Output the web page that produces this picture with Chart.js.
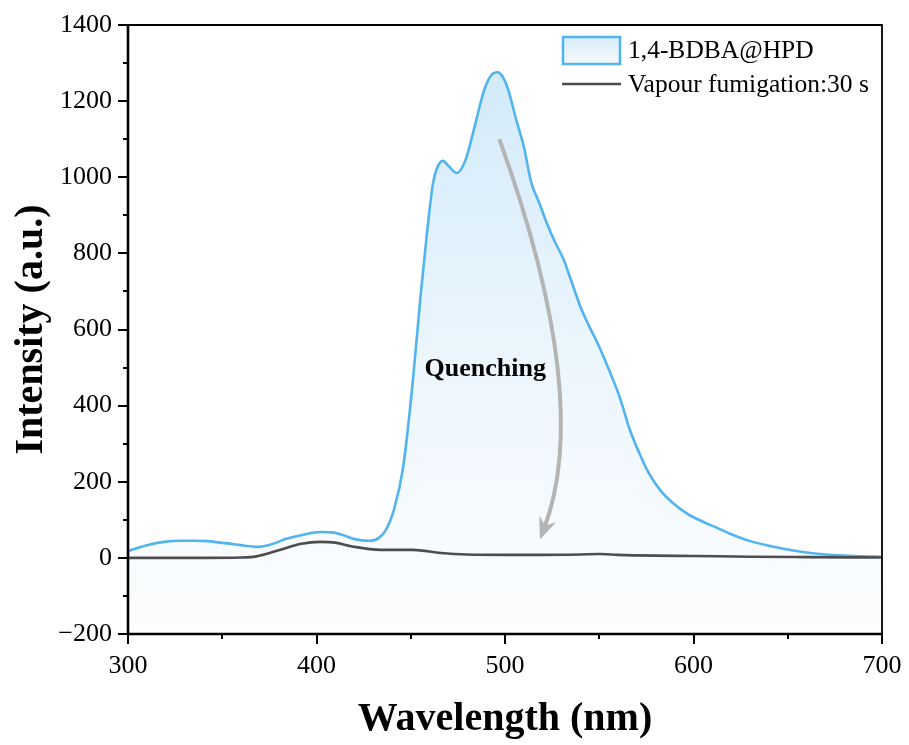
<!DOCTYPE html>
<html lang="en">
<head>
    <meta charset="UTF-8" />
    <title>Emission spectra</title>
    <script src="https://cdn.jsdelivr.net/npm/chart.js"></script>
    <style>
        html, body { margin: 0; padding: 0; background: #fff; }
        #wrap { width: 909px; height: 745px; }
    </style>
</head>
<body>
    <div id="wrap"><canvas id="specChart" width="909" height="745"></canvas></div>

    <script>
        // spectrum data
        const wlPristine = [300, 310, 319, 328, 335, 342, 349, 356, 362, 368, 375, 384, 393, 402, 408, 414, 419, 424, 428, 433, 437, 441, 446, 451, 455, 458.6, 461.8, 464, 467, 470, 474.5, 479, 484, 489, 493, 496, 499, 502, 506, 510, 514, 518, 522, 526, 531, 535, 540, 545, 549, 553, 557, 561, 566, 571, 576, 582, 590, 597, 605, 612, 620, 630, 640, 650, 660, 670, 680, 690, 700];
        const intPristine = [18, 33, 42, 45, 45, 44, 40, 36, 32, 29, 34, 50, 61, 68, 67, 60, 51, 46, 45, 52, 75, 125, 239, 459, 677, 853, 984, 1025, 1043, 1030, 1011, 1045, 1135, 1230, 1270, 1276, 1262, 1225, 1150, 1080, 985, 935, 882, 835, 785, 730, 660, 605, 565, 520, 472, 420, 340, 278, 225, 180, 140, 115, 95, 80, 62, 44, 32, 22, 14, 9, 6, 4, 3];

        const wlFumed = [300, 320, 340, 360, 368, 380, 392, 402, 410, 419, 434, 451, 466, 480, 500, 520, 540, 550, 560, 580, 600, 630, 660, 700];
        const intFumed = [0, 0, 0, 1, 4, 20, 37, 42, 40, 30, 21, 21, 13, 9, 8, 8, 9, 10, 8, 6, 5, 3, 2, 1];

        const seriesLabels = ['1,4-BDBA@HPD', 'Vapour fumigation:30 s'];
        const xTickValues = [300, 400, 500, 600, 700];
        const yTickValues = [-200, 0, 200, 400, 600, 800, 1000, 1200, 1400];

        const serif = '"Liberation Serif", "Times New Roman", serif';

        function toPoints(xs, ys) {
            return xs.map((x, i) => ({ x: x, y: ys[i] }));
        }

        function blueFill(ctx) {
            const area = ctx.chart.chartArea;
            if (!area) return 'rgba(214,236,251,0.8)';
            const g = ctx.chart.ctx.createLinearGradient(0, area.top + 60, 0, area.bottom);
            g.addColorStop(0, 'rgba(212,235,250,1)');
            g.addColorStop(0.55, 'rgba(238,247,253,1)');
            g.addColorStop(1, 'rgba(252,253,254,1)');
            return g;
        }

        // axis frame, ticks, legend, arrow and label
        const decorPlugin = {
            id: 'decor',
            afterDraw(chart) {
                const c = chart.ctx;
                const a = chart.chartArea;
                const xs = chart.scales.x;
                const ys = chart.scales.y;

                // quenching arrow
                const p0 = { x: xs.getPixelForValue(497), y: ys.getPixelForValue(1100) };
                const cp = { x: xs.getPixelForValue(547), y: ys.getPixelForValue(415) };
                const p2 = { x: xs.getPixelForValue(518.5), y: ys.getPixelForValue(48) };
                c.save();
                c.strokeStyle = '#b4b4b4';
                c.lineWidth = 4;
                c.beginPath();
                c.moveTo(p0.x, p0.y);
                const endLine = { x: p2.x + (cp.x - p2.x) * 0.07, y: p2.y + (cp.y - p2.y) * 0.07 };
                c.quadraticCurveTo(cp.x, cp.y, endLine.x, endLine.y);
                c.stroke();
                const ang = Math.atan2(p2.y - cp.y, p2.x - cp.x);
                c.fillStyle = '#b4b4b4';
                c.beginPath();
                c.moveTo(p2.x, p2.y);
                c.lineTo(p2.x - 22 * Math.cos(ang) + 9 * Math.sin(ang), p2.y - 22 * Math.sin(ang) - 9 * Math.cos(ang));
                c.lineTo(p2.x - 15 * Math.cos(ang), p2.y - 15 * Math.sin(ang));
                c.lineTo(p2.x - 22 * Math.cos(ang) - 9 * Math.sin(ang), p2.y - 22 * Math.sin(ang) + 9 * Math.cos(ang));
                c.closePath();
                c.fill();

                c.fillStyle = '#000';
                c.font = 'bold 26px ' + serif;
                c.textAlign = 'center';
                c.textBaseline = 'middle';
                c.fillText('Quenching', xs.getPixelForValue(489.5), ys.getPixelForValue(496));
                c.restore();

                // frame
                c.save();
                c.strokeStyle = '#000';
                c.lineWidth = 1.8;
                c.beginPath();
                c.moveTo(a.left, a.top);
                c.lineTo(a.right, a.top);
                c.lineTo(a.right, a.bottom);
                c.stroke();
                c.lineWidth = 2.6;
                c.beginPath();
                c.moveTo(a.left, a.top - 1);
                c.lineTo(a.left, a.bottom);
                c.lineTo(a.right + 1, a.bottom);
                c.stroke();

                // ticks (major + minor)
                c.lineWidth = 2;
                for (let v = -200; v <= 1400; v += 100) {
                    const py = Math.round(ys.getPixelForValue(v));
                    const len = v % 200 === 0 ? 10 : 5;
                    c.beginPath();
                    c.moveTo(a.left, py);
                    c.lineTo(a.left - len, py);
                    c.stroke();
                }
                for (let v = 300; v <= 700; v += 50) {
                    const px = Math.round(xs.getPixelForValue(v));
                    const len = v % 100 === 0 ? 10 : 5;
                    c.beginPath();
                    c.moveTo(px, a.bottom);
                    c.lineTo(px, a.bottom + len);
                    c.stroke();
                }
                c.restore();

                // legend
                const ds = chart.data.datasets;
                c.save();
                c.font = '25.5px ' + serif;
                c.textBaseline = 'middle';
                c.textAlign = 'left';
                const bx = 563, by = 37, bw = 57, bh = 27;
                const lg = c.createLinearGradient(0, by, 0, by + bh);
                lg.addColorStop(0, 'rgba(214,236,251,1)');
                lg.addColorStop(1, 'rgba(248,251,254,1)');
                c.fillStyle = lg;
                c.fillRect(bx, by, bw, bh);
                c.strokeStyle = ds[0].borderColor;
                c.lineWidth = 2.5;
                c.strokeRect(bx, by, bw, bh);
                c.fillStyle = '#000';
                c.fillText(ds[0].label, 628, by + bh / 2 + 1);
                c.strokeStyle = ds[1].borderColor;
                c.lineWidth = 2.5;
                c.beginPath();
                c.moveTo(bx - 1, 84);
                c.lineTo(bx + bw + 1, 84);
                c.stroke();
                c.fillText(ds[1].label, 628, 85);
                c.restore();
            }
        };

        const ctx = document.getElementById('specChart').getContext('2d');
        new Chart(ctx, {
            type: 'line',
            data: {
                datasets: [
                    {
                        label: seriesLabels[0],
                        data: toPoints(wlPristine, intPristine),
                        borderColor: '#52b4ef',
                        borderWidth: 2.6,
                        backgroundColor: blueFill,
                        fill: 'start',
                        pointRadius: 0,
                        tension: 0.4,
                        cubicInterpolationMode: 'monotone',
                        order: 2
                    },
                    {
                        label: seriesLabels[1],
                        data: toPoints(wlFumed, intFumed),
                        borderColor: '#4d4d4d',
                        borderWidth: 2.6,
                        fill: false,
                        pointRadius: 0,
                        tension: 0.4,
                        cubicInterpolationMode: 'monotone',
                        order: 1
                    }
                ]
            },
            options: {
                responsive: false,
                animation: false,
                events: [],
                layout: { padding: { left: 0, top: 25, right: 27, bottom: 0 } },
                plugins: {
                    legend: { display: false },
                    tooltip: { enabled: false }
                },
                scales: {
                    x: {
                        type: 'linear',
                        min: 300,
                        max: 700,
                        afterBuildTicks: s => { s.ticks = xTickValues.map(v => ({ value: v })); },
                        afterFit: s => { s.height = 111; s.paddingRight = 0; s.paddingLeft = 0; },
                        grid: { display: false, drawTicks: false },
                        border: { display: false },
                        ticks: {
                            color: '#000',
                            padding: 17,
                            maxRotation: 0,
                            font: { family: serif, size: 26 }
                        },
                        title: {
                            display: true,
                            text: 'Wavelength (nm)',
                            color: '#000',
                            font: { family: serif, size: 40, weight: 'bold' },
                            padding: { top: 0, bottom: 1 }
                        }
                    },
                    y: {
                        min: -200,
                        max: 1400,
                        afterBuildTicks: s => { s.ticks = yTickValues.map(v => ({ value: v })); },
                        afterFit: s => { s.width = 128; s.paddingTop = 0; s.paddingBottom = 0; },
                        grid: { display: false, drawTicks: false },
                        border: { display: false },
                        ticks: {
                            color: '#000',
                            padding: 16,
                            font: { family: serif, size: 26 },
                            callback: v => (v < 0 ? '\u2212' + Math.abs(v) : String(v))
                        },
                        title: {
                            display: true,
                            text: 'Intensity (a.u.)',
                            color: '#000',
                            font: { family: serif, size: 40, weight: 'bold' },
                            padding: { top: 8, bottom: 0 }
                        }
                    }
                }
            },
            plugins: [decorPlugin]
        });
    </script>
</body>
</html>
